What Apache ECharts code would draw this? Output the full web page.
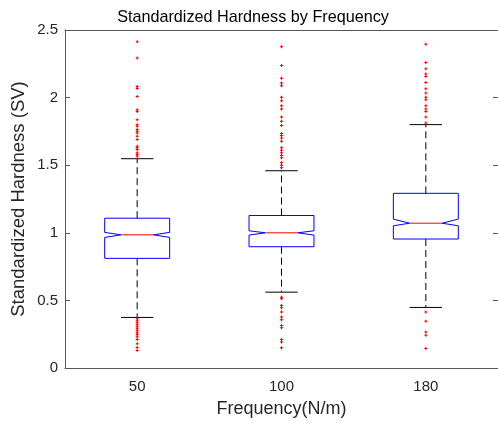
<!DOCTYPE html>
<html>
<head>
<meta charset="utf-8">
<script src="https://cdn.jsdelivr.net/npm/echarts@6/dist/echarts.min.js"></script>
<style>html,body{margin:0;padding:0;background:#fff}#c{width:498px;height:423px}</style>
</head>
<body>
<div id="c"></div>
<script>
const categories = ['50', '100', '180'];
const lowerWhisker = [0.374, 0.561, 0.448];
const q1 = [0.811, 0.897, 0.954];
const notchLow = [0.966, 0.983, 1.052];
const median = [0.985, 1.000, 1.071];
const notchHigh = [1.003, 1.015, 1.101];
const q3 = [1.108, 1.128, 1.292];
const upperWhisker = [1.548, 1.459, 1.800];
const outliers50 = [2.414, 2.292, 2.083, 2.068, 2.009, 1.911, 1.898, 1.837, 1.800, 1.788, 1.764, 1.751, 1.739, 1.714, 1.690, 1.641, 1.629, 1.616, 1.592, 1.580, 1.567,
  0.364, 0.350, 0.335, 0.320, 0.306, 0.291, 0.276, 0.261, 0.247, 0.232, 0.210, 0.180, 0.151, 0.129];
const outliers100 = [2.377, 2.237, 2.144, 2.108, 2.088, 2.002, 1.977, 1.940, 1.916, 1.857, 1.825, 1.793, 1.734, 1.719, 1.702, 1.677, 1.629, 1.611, 1.592, 1.572, 1.555, 1.518, 1.499, 1.482,
  0.524, 0.512, 0.462, 0.446, 0.414, 0.377, 0.357, 0.315, 0.298, 0.210, 0.193, 0.149];
const outliers180 = [2.395, 2.259, 2.213, 2.174, 2.156, 2.112, 2.066, 2.034, 2.002, 1.985, 1.940, 1.916, 1.898, 1.857, 1.813,
  0.414, 0.345, 0.267, 0.242, 0.144];
const yTicks = [0, 0.5, 1, 1.5, 2, 2.5];

const outlierGroups = [outliers50, outliers100, outliers180];
const boxData = categories.map((c, i) => [i, lowerWhisker[i], q1[i], notchLow[i], median[i], notchHigh[i], q3[i], upperWhisker[i]]);
const outlierData = [];
outlierGroups.forEach((g, i) => g.forEach(v => outlierData.push([i, v])));

const FONT = 'Liberation Sans, Arial, Helvetica, sans-serif';
const chart = echarts.init(document.getElementById('c'));

function renderBox(params, api) {
  const idx = api.value(0);
  const p = k => api.coord([idx, api.value(k)]);
  const band = api.size([1, 0])[0];
  const w = band * 0.45;
  const x = p(1)[0];
  const yLW = p(1)[1], yQ1 = p(2)[1], yNL = p(3)[1], yMed = p(4)[1], yNH = p(5)[1], yQ3 = p(6)[1], yUW = p(7)[1];
  const L = x - w / 2, R = x + w / 2, nL = x - w / 4, nR = x + w / 4;
  const cap = w / 4;
  const dash = { stroke: '#000', lineWidth: 1, lineDash: [7, 4], fill: null };
  const solid = { stroke: '#000', lineWidth: 1, fill: null };
  return {
    type: 'group',
    children: [
      { type: 'line', shape: { x1: x, y1: yQ3, x2: x, y2: yUW }, style: dash },
      { type: 'line', shape: { x1: x, y1: yQ1, x2: x, y2: yLW }, style: dash },
      { type: 'line', shape: { x1: x - cap, y1: yUW, x2: x + cap, y2: yUW }, style: solid },
      { type: 'line', shape: { x1: x - cap, y1: yLW, x2: x + cap, y2: yLW }, style: solid },
      { type: 'polygon', shape: { points: [[L, yQ3], [R, yQ3], [R, yNH], [nR, yMed], [R, yNL], [R, yQ1], [L, yQ1], [L, yNL], [nL, yMed], [L, yNH]] },
        style: { stroke: '#0000ff', lineWidth: 1, fill: null } },
      { type: 'line', shape: { x1: nL, y1: yMed, x2: nR, y2: yMed }, style: { stroke: '#ff0000', lineWidth: 1 } }
    ]
  };
}

const axisLineStyle = { color: '#555', width: 1 };

chart.setOption({
  animation: false,
  backgroundColor: '#fff',
  title: {
    text: 'Standardized Hardness by Frequency',
    left: 248, top: 5, textAlign: 'center',
    textStyle: { fontFamily: FONT, fontSize: 16.2, fontWeight: 'normal', color: '#000' }
  },
  grid: { left: 65, top: 30, width: 435, height: 340, containLabel: false },
  xAxis: [{
    type: 'category', data: categories, position: 'bottom',
    name: 'Frequency(N/m)', nameLocation: 'middle', nameGap: 32,
    nameTextStyle: { fontFamily: FONT, fontSize: 18, color: '#262626' },
    axisLine: { show: true, onZero: false, lineStyle: axisLineStyle },
    axisTick: { inside: true, alignWithLabel: true, length: 5, lineStyle: { color: '#555' } },
    axisLabel: { fontFamily: FONT, fontSize: 15, color: '#262626', margin: 11 },
    splitLine: { show: false }
  }, {
    type: 'category', data: categories, position: 'top',
    axisLine: { show: true, onZero: false, lineStyle: axisLineStyle },
    axisTick: { inside: true, alignWithLabel: true, length: 5, lineStyle: { color: '#555' } },
    axisLabel: { show: false }, splitLine: { show: false }
  }],
  yAxis: [{
    type: 'value', min: 0, max: 2.5, interval: 0.5, position: 'left',
    name: 'Standardized Hardness (SV)', nameLocation: 'middle', nameGap: 37,
    nameMoveOverlap: false,
    nameTextStyle: { fontFamily: FONT, fontSize: 18.5, color: '#262626' },
    axisLine: { show: true, onZero: false, lineStyle: axisLineStyle },
    axisTick: { show: true, inside: true, length: 5, lineStyle: { color: '#555' } },
    axisLabel: { fontFamily: FONT, fontSize: 15, color: '#262626', margin: 7,
      formatter: v => (yTicks.indexOf(v) >= 0 ? String(v) : '') },
    splitLine: { show: false }
  }, {
    type: 'value', min: 0, max: 2.5, interval: 0.5, position: 'right',
    axisLine: { show: true, onZero: false, lineStyle: axisLineStyle },
    axisTick: { show: true, inside: true, length: 5, lineStyle: { color: '#555' } },
    axisLabel: { show: false }, splitLine: { show: false }
  }],
  series: [{
    type: 'custom',
    renderItem: renderBox,
    data: boxData,
    encode: { x: 0, y: [1, 2, 3, 4, 5, 6, 7] },
    z: 2
  }, {
    type: 'scatter',
    data: outlierData,
    symbol: 'path://M1,0H2V1H3V2H2V3H1V2H0V1H1Z',
    symbolSize: 3,
    itemStyle: { color: '#ff0000', opacity: 1 },
    z: 3
  }]
});
</script>
</body>
</html>
